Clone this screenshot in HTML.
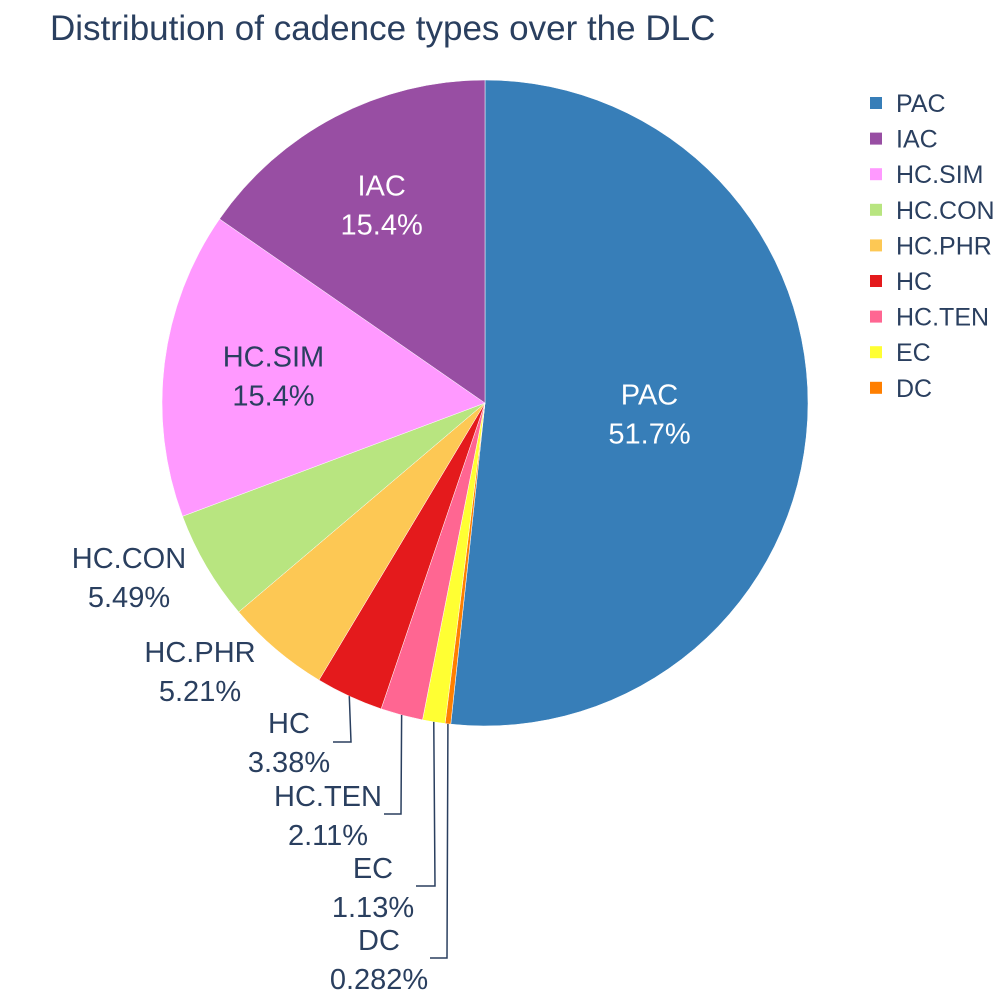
<!DOCTYPE html>
<html><head><meta charset="utf-8"><style>
html,body{margin:0;padding:0;background:#fff;}
svg{display:block;font-family:"Liberation Sans",sans-serif;}
</style></head><body>
<svg id="chart" width="1000" height="1000" viewBox="0 0 1000 1000">
<text x="50" y="40" font-size="35" fill="#2a3f5f">Distribution of cadence types over the DLC</text>
<g id="slices"></g><g id="labels"></g><g id="legend"></g>
</svg>
<script>
const labels = ["PAC","IAC","HC.SIM","HC.CON","HC.PHR","HC","HC.TEN","EC","DC"];
const counts = [367,109,109,39,37,24,15,8,2];
const pctText = ["51.7%","15.4%","15.4%","5.49%","5.21%","3.38%","2.11%","1.13%","0.282%"];
const colors = ["#377eb8","#984ea3","#ff99ff","#b8e580","#fdc854","#e41a1c","#ff6692","#ffff33","#ff7f00"];
const NS="http://www.w3.org/2000/svg";
const cx=485, cy=403, R=323;
const total=counts.reduce((a,b)=>a+b,0);
function pt(frac,r){const a=frac*2*Math.PI;return [cx+r*Math.sin(a), cy-r*Math.cos(a)];}
function mk(tag,attrs,parent){const e=document.createElementNS(NS,tag);for(const k in attrs)e.setAttribute(k,attrs[k]);parent.appendChild(e);return e;}
const gS=document.getElementById('slices'), gL=document.getElementById('labels'), gG=document.getElementById('legend');
const outside={3:[129,568],4:[200,662],5:[289,733],6:[328,806],7:[373,878],8:[379,950]};
const connector={5:[351,742,333],6:[401,814,384],7:[435,886,416],8:[447,958,430]};
const order=[0,8,7,6,5,4,3,2,1];
let acc=0;
order.forEach(i=>{
  const v=counts[i];
  const f0=acc/total, f1=(acc+v)/total; acc+=v;
  const [x0,y0]=pt(f0,R),[x1,y1]=pt(f1,R);
  const large=(f1-f0)>0.5?1:0;
  const p=mk('path',{d:`M${cx},${cy}L${x0},${y0}A${R},${R} 0 ${large} 1 ${x1},${y1}Z`,fill:colors[i],stroke:"#fff","stroke-width":0.5},gS);
  
  
  const mid=(f0+f1)/2;
  let tx,ty,fill;
  if(outside[i]){
    [tx,ty]=outside[i]; fill="#2a3f5f";
    if(connector[i]){
      const [mx,my]=pt(mid,R);
      const c=connector[i];
      const l=mk('polyline',{points:`${mx},${my} ${c[0]},${c[1]} ${c[2]},${c[1]}`,fill:"none",stroke:"#2a3f5f","stroke-width":1.5},gL);
      
      
    }
  } else {
    const r=(i===0)?0.51*R:(i===1?0.69*R:0.66*R);
    [tx,ty]=pt(mid,r); ty-=(i===0?7:10);
    fill=(i<2)?"#fff":"#2a3f5f";
  }
  const t=mk('text',{x:tx,y:ty,"font-size":29,fill:fill,"text-anchor":"middle"},gL);
  
  
  mk('tspan',{x:tx,dy:0},t).textContent=labels[i];
  mk('tspan',{x:tx,dy:39},t).textContent=pctText[i];
});
labels.forEach((lab,i)=>{
  const ly=103+i*35.6;
  const g=mk('g',{},gG);
  
  
  mk('rect',{x:870,y:ly-6,width:12,height:12,fill:colors[i]},g);
  const lt=mk('text',{x:896,y:ly+9,"font-size":25,fill:"#2a3f5f"},g);
  lt.textContent=lab;
});
</script>
</body></html>
